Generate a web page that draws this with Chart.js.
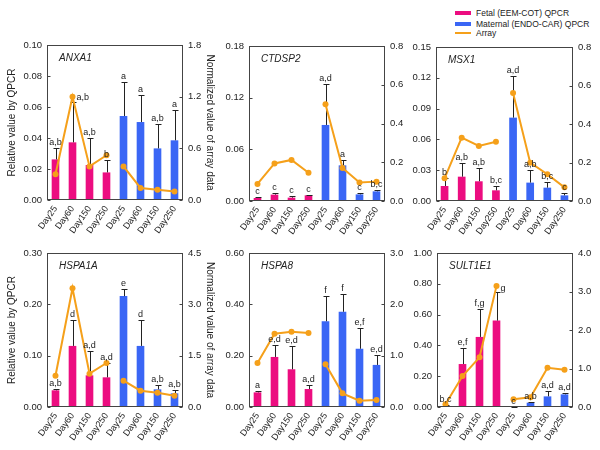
<!DOCTYPE html>
<html><head><meta charset="utf-8">
<script src="https://cdn.jsdelivr.net/npm/chart.js@4"></script>
<style>
body{margin:0;width:600px;height:450px;background:#fff;position:relative;overflow:hidden;font-family:'Liberation Sans',Arial,sans-serif;}
canvas{position:absolute;}
.lg{position:absolute;font-size:8.5px;color:#222;white-space:nowrap;line-height:10px;}
.sw{position:absolute;}
</style></head><body>
<div class="sw" style="left:455px;top:11px;width:16px;height:4px;background:#ec0d80"></div>
<div class="lg" style="left:476px;top:8px">Fetal (EEM-COT) QPCR</div>
<div class="sw" style="left:455px;top:22px;width:16px;height:4px;background:#3a66f5"></div>
<div class="lg" style="left:476px;top:19px">Maternal (ENDO-CAR) QPCR</div>
<div class="sw" style="left:455px;top:32px;width:16px;height:2px;background:#f5a01a"></div>
<div class="lg" style="left:476px;top:28px">Array</div>
<script>
// ---- data ----
const categories = ['Day25','Day60','Day150','Day250','Day25','Day60','Day150','Day250'];

const anxa1Qpcr = [0.0262,0.0372,0.0226,0.0178,0.0542,0.0503,0.0333,0.0385];
const anxa1Err = [0.0076,0.0262,0.0174,0.0078,0.0217,0.0174,0.0159,0.0198];
const anxa1ArrayFetal = [0.30,1.20,0.39,0.52];
const anxa1ArrayMaternal = [0.39,0.14,0.12,0.10];
const anxa1Letters = ['a,b','a,b','a,b','b','a','a','a,b','a'];
const anxa1LeftTicks = [0,0.02,0.04,0.06,0.08,0.10];
const anxa1RightTicks = [0,0.6,1.2,1.8];

const ctdsp2Qpcr = [0.0035,0.0074,0.0039,0.0066,0.0883,0.0414,0.0077,0.0112];
const ctdsp2Err = [0.0011,0.0023,0.0015,0.0008,0.0472,0.0066,0.0016,0.0020];
const ctdsp2ArrayFetal = [0.088,0.194,0.212,0.146];
const ctdsp2ArrayMaternal = [0.499,0.170,0.095,0.100];
const ctdsp2Letters = ['c','c','c','c','a,d','a','c','b,c'];
const ctdsp2LeftTicks = [0,0.06,0.12,0.18];
const ctdsp2RightTicks = [0,0.2,0.4,0.6,0.8];

const msx1Qpcr = [0.0146,0.0237,0.0192,0.0104,0.0812,0.0179,0.0130,0.0055];
const msx1Err = [0.0081,0.0136,0.0133,0.0042,0.0406,0.0126,0.0058,0.0020];
const msx1ArrayFetal = [0.118,0.329,0.286,0.308];
const msx1ArrayMaternal = [0.561,0.199,0.139,0.071];
const msx1Letters = ['b','a,b','a,b','b,c','a,d','a,b','b,c','c'];
const msx1LeftTicks = [0,0.03,0.06,0.09,0.12,0.15];
const msx1RightTicks = [0,0.2,0.4,0.6,0.8];

const hspa1aQpcr = [0.0325,0.119,0.0617,0.0578,0.216,0.119,0.0344,0.0266];
const hspa1aErr = [0.0025,0.050,0.048,0.0286,0.013,0.050,0.0085,0.0072];
const hspa1aArrayFetal = [0.915,3.47,0.974,1.285];
const hspa1aArrayMaternal = [0.769,0.477,0.419,0.331];
const hspa1aLetters = ['a,b','d','a,d','a,d','e','d','a,b','a,b'];
const hspa1aLeftTicks = [0,0.10,0.20,0.30];
const hspa1aRightTicks = [0,1.5,3.0,4.5];

const hspa8Qpcr = [0.057,0.195,0.147,0.070,0.334,0.371,0.227,0.164];
const hspa8Err = [0.004,0.045,0.089,0.016,0.100,0.071,0.079,0.037];
const hspa8ArrayFetal = [0.857,1.429,1.468,1.442];
const hspa8ArrayMaternal = [0.831,0.266,0.123,0.136];
const hspa8Letters = ['a','e,d','e,d','a,d','f','f','e,f','e,d'];
const hspa8LeftTicks = [0,0.20,0.40,0.60];
const hspa8RightTicks = [0,1.0,2.0,3.0];

const sult1e1Qpcr = [0.0065,0.279,0.455,0.561,0.002,0.028,0.069,0.082];
const sult1e1Err = [0.004,0.106,0.184,0.184,0.001,0.007,0.037,0.009];
const sult1e1ArrayFetal = [0.069,0.805,1.29,3.14];
const sult1e1ArrayMaternal = [0.199,0.251,1.02,0.97];
const sult1e1Letters = ['b,c','e,f','f,g','g','c','a,b','a,d','a,d'];
const sult1e1LeftTicks = [0,0.20,0.40,0.60,0.80,1.00];
const sult1e1RightTicks = [0,1.0,2.0,3.0,4.0];

// ---- style ----
const PINK = '#ec0d80', BLUE = '#3a66f5', ORANGE = '#f5a01a', TXT = '#222', AX = '#444';
const FONT = "'Liberation Sans', Arial, sans-serif";

const decorPlugin = {
  id: 'decor',
  afterDatasetDraw(chart, args, o) {
    if (args.index !== 0) return;
    const meta = chart.getDatasetMeta(0);
    const ys = chart.scales.y;
    const vals = chart.data.datasets[0].data;
    const ctx = chart.ctx;
    ctx.save();
    ctx.strokeStyle = '#222'; ctx.lineWidth = 1;
    for (let i = 0; i < vals.length; i++) {
      const x = Math.round(meta.data[i].x) + 0.5;
      const y0 = ys.getPixelForValue(vals[i]);
      const y1 = Math.round(ys.getPixelForValue(vals[i] + o.errors[i])) + 0.5;
      ctx.beginPath();
      ctx.moveTo(x, y0); ctx.lineTo(x, y1);
      ctx.moveTo(x - 3, y1); ctx.lineTo(x + 3, y1);
      ctx.stroke();
    }
    ctx.restore();
  },
  afterDatasetsDraw(chart, args, o) {
    const ctx = chart.ctx, a = chart.chartArea;
    const meta = chart.getDatasetMeta(0);
    const ys = chart.scales.y;
    const vals = chart.data.datasets[0].data;
    ctx.save();
    // frame
    ctx.strokeStyle = AX; ctx.lineWidth = 1;
    const L = Math.round(a.left) + 0.5, R = Math.round(a.right) - 0.5, T = Math.round(a.top) + 0.5, B = Math.round(a.bottom) - 0.5;
    ctx.strokeRect(L, T, R - L, B - T);
    // inner tick marks
    ctx.beginPath();
    chart.scales.y.ticks.forEach(t => { const y = Math.round(ys.getPixelForValue(t.value)) + 0.5; ctx.moveTo(L, y); ctx.lineTo(L + 3, y); });
    const y1s = chart.scales.y1;
    y1s.ticks.forEach(t => { const y = Math.round(y1s.getPixelForValue(t.value)) + 0.5; ctx.moveTo(R, y); ctx.lineTo(R - 3, y); });
    ctx.stroke();
    // gene name
    ctx.fillStyle = TXT;
    ctx.font = 'italic 10px ' + FONT;
    ctx.textAlign = 'left'; ctx.textBaseline = 'middle';
    ctx.fillText(o.gene, a.left + 12, a.top + 13);
    // letters
    ctx.font = '9px ' + FONT;
    for (let i = 0; i < vals.length; i++) {
      const x = meta.data[i].x;
      const yc = ys.getPixelForValue(vals[i] + o.errors[i]);
      if (o.sideLabels.includes(i)) {
        ctx.textAlign = 'left'; ctx.textBaseline = 'middle';
        ctx.fillText(o.letters[i], x + 4, yc - 4);
      } else {
        ctx.textAlign = 'center'; ctx.textBaseline = 'bottom';
        ctx.fillText(o.letters[i], x, yc - 1);
      }
    }
    ctx.restore();
  }
};

function decimals(arr) {
  return Math.max(...arr.map(v => { const s = String(v); return s.includes('.') ? s.split('.')[1].length : 0; }));
}

function makePanel(p) {
  const cv = document.createElement('canvas');
  cv.width = p.box.w; cv.height = p.box.h;
  cv.style.left = p.box.l + 'px'; cv.style.top = p.box.t + 'px';
  cv.style.width = p.box.w + 'px'; cv.style.height = p.box.h + 'px';
  document.body.appendChild(cv);
  const lw = p.area.l - p.box.l, rw = p.box.l + p.box.w - p.area.r;
  const xh = p.box.t + p.box.h - p.area.b, padTop = p.area.t - p.box.t;
  const colors = categories.map((c, i) => i < 4 ? PINK : BLUE);
  const n = p.arrF.length;
  const fetalLine = categories.map((c, i) => i < n ? p.arrF[i] : null);
  const maternalLine = categories.map((c, i) => i >= n ? p.arrM[i - n] : null);
  const dl = p.ld, dr = p.rd;
  const tickFont = { family: FONT, size: 9.5 };
  const titleFont = { family: FONT, size: 10 };
  new Chart(cv, {
    data: {
      labels: categories,
      datasets: [
        { type: 'bar', data: p.qpcr, backgroundColor: colors, borderWidth: 0, yAxisID: 'y', order: 2, barPercentage: 0.45, categoryPercentage: 1.0 },
        { type: 'line', data: fetalLine, borderColor: ORANGE, backgroundColor: ORANGE, borderWidth: 2, pointRadius: 3, pointBorderWidth: 0, yAxisID: 'y1', order: 1, spanGaps: false },
        { type: 'line', data: maternalLine, borderColor: ORANGE, backgroundColor: ORANGE, borderWidth: 2, pointRadius: 3, pointBorderWidth: 0, yAxisID: 'y1', order: 1, spanGaps: false }
      ]
    },
    options: {
      responsive: false, animation: false, devicePixelRatio: 1,
      layout: { padding: { top: padTop, left: 0, right: 0, bottom: 0 } },
      plugins: { legend: { display: false }, tooltip: { enabled: false },
        decor: { errors: p.err, letters: p.letters, gene: p.gene, sideLabels: p.sideLabels || [] } },
      scales: {
        x: {
          type: 'category', offset: true,
          grid: { display: false, drawTicks: false }, border: { display: false },
          ticks: { font: { family: FONT, size: 9 }, color: TXT, minRotation: 55, maxRotation: 55, padding: 4, autoSkip: false },
          afterFit(s) { s.height = xh; s.paddingLeft = 0; s.paddingRight = 0; }
        },
        y: {
          position: 'left', min: 0, max: p.lt[p.lt.length - 1],
          afterBuildTicks(s) { s.ticks = p.lt.map(v => ({ value: v })); },
          ticks: { font: tickFont, color: TXT, padding: 5, callback: v => Number(v).toFixed(dl) },
          grid: { display: false, drawTicks: false }, border: { display: false },
          title: { display: !!p.leftTitle, text: p.leftTitle || '', font: titleFont, color: TXT, padding: { top: 6, bottom: 0 } },
          afterFit(s) { s.width = lw; s.paddingTop = 0; s.paddingBottom = 0; }
        },
        y1: {
          position: 'right', min: 0, max: p.rt[p.rt.length - 1],
          afterBuildTicks(s) { s.ticks = p.rt.map(v => ({ value: v })); },
          ticks: { font: tickFont, color: TXT, padding: 5, callback: v => Number(v).toFixed(dr) },
          grid: { display: false, drawTicks: false }, border: { display: false },
          title: { display: !!p.rightTitle, text: p.rightTitle || '', font: titleFont, color: TXT, padding: { top: 6, bottom: 0 } },
          afterFit(s) { s.width = rw; s.paddingTop = 0; s.paddingBottom = 0; }
        }
      }
    },
    plugins: [decorPlugin]
  });
}

const LT = 'Relative value by QPCR', RT = 'Normalized value of array data';
makePanel({ gene: 'ANXA1', qpcr: anxa1Qpcr, err: anxa1Err, arrF: anxa1ArrayFetal, arrM: anxa1ArrayMaternal, letters: anxa1Letters, lt: anxa1LeftTicks, rt: anxa1RightTicks, ld: 2, rd: 1, leftTitle: LT, rightTitle: RT, sideLabels: [1],
  box: { l: 0, t: 28, w: 222, h: 212 }, area: { l: 47, t: 45, r: 183, b: 200 } });
makePanel({ gene: 'CTDSP2', qpcr: ctdsp2Qpcr, err: ctdsp2Err, arrF: ctdsp2ArrayFetal, arrM: ctdsp2ArrayMaternal, letters: ctdsp2Letters, lt: ctdsp2LeftTicks, rt: ctdsp2RightTicks, ld: 2, rd: 1,
  box: { l: 205, t: 28, w: 200, h: 212 }, area: { l: 249, t: 46, r: 385, b: 201 } });
makePanel({ gene: 'MSX1', qpcr: msx1Qpcr, err: msx1Err, arrF: msx1ArrayFetal, arrM: msx1ArrayMaternal, letters: msx1Letters, lt: msx1LeftTicks, rt: msx1RightTicks, ld: 2, rd: 1,
  box: { l: 405, t: 28, w: 195, h: 212 }, area: { l: 436, t: 47, r: 573, b: 201 } });
makePanel({ gene: 'HSPA1A', qpcr: hspa1aQpcr, err: hspa1aErr, arrF: hspa1aArrayFetal, arrM: hspa1aArrayMaternal, letters: hspa1aLetters, lt: hspa1aLeftTicks, rt: hspa1aRightTicks, ld: 2, rd: 1, leftTitle: LT, rightTitle: RT,
  box: { l: 0, t: 236, w: 222, h: 212 }, area: { l: 47, t: 253, r: 183, b: 407 } });
makePanel({ gene: 'HSPA8', qpcr: hspa8Qpcr, err: hspa8Err, arrF: hspa8ArrayFetal, arrM: hspa8ArrayMaternal, letters: hspa8Letters, lt: hspa8LeftTicks, rt: hspa8RightTicks, ld: 2, rd: 1,
  box: { l: 205, t: 236, w: 200, h: 212 }, area: { l: 249, t: 253, r: 385, b: 407 } });
makePanel({ gene: 'SULT1E1', qpcr: sult1e1Qpcr, err: sult1e1Err, arrF: sult1e1ArrayFetal, arrM: sult1e1ArrayMaternal, letters: sult1e1Letters, lt: sult1e1LeftTicks, rt: sult1e1RightTicks, ld: 2, rd: 1, sideLabels: [3],
  box: { l: 405, t: 236, w: 195, h: 212 }, area: { l: 437, t: 253, r: 573, b: 407 } });
</script>
</body></html>
